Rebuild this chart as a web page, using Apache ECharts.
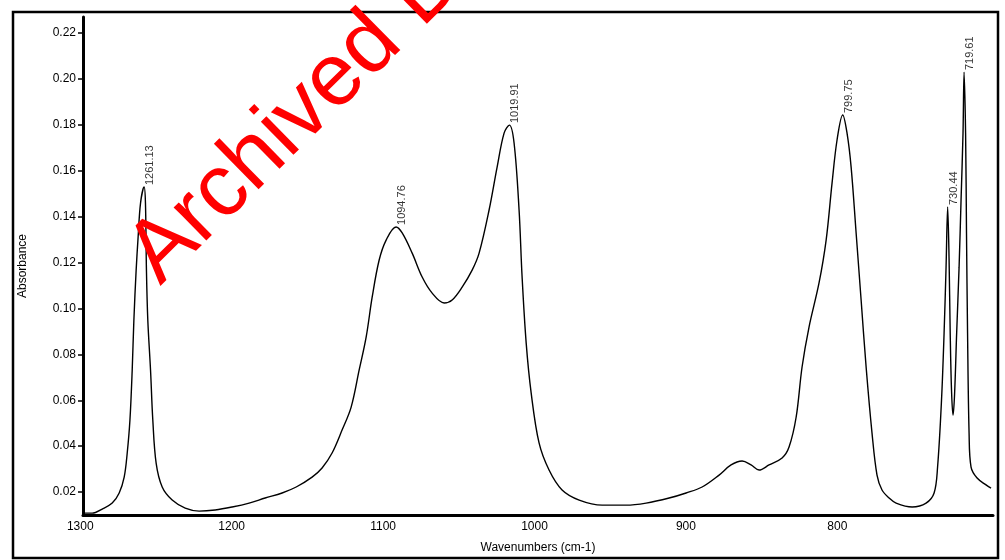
<!DOCTYPE html>
<html>
<head>
<meta charset="utf-8">
<script src="https://cdn.jsdelivr.net/npm/echarts@6/dist/echarts.min.js"></script>
<style>
html,body{margin:0;padding:0;background:#fff;}
#chart{width:1005px;height:560px;}
</style>
</head>
<body>
<div id="chart"></div>
<script>
// Spectrum trace (wavenumber cm-1, absorbance)
const wavenumbers = [
  1301.5, 1295.4, 1288.8, 1282.2, 1277.6, 1274.3, 1272.3, 1270.5, 1269.0, 1267.9,
  1266.4, 1265.1, 1263.5, 1261.13, 1260.25, 1259.6, 1258.7, 1256.9, 1255.4, 1253.2,
  1249.2, 1242.6, 1234.0, 1224.8, 1214.2, 1203.0, 1191.8, 1181.2, 1170.0, 1160.7,
  1150.2, 1143.6, 1137.0, 1130.4, 1124.4, 1119.1, 1114.5, 1110.5, 1105.9, 1101.3,
  1094.76, 1090.7, 1084.1, 1077.5, 1070.9, 1063.0, 1057.7, 1051.1, 1044.5, 1039.9,
  1033.3, 1028.0, 1023.4, 1019.91, 1016.8, 1013.5, 1011.5, 1008.8, 1005.5, 1000.3,
  993.7, 985.1, 973.8, 958.6, 942.8, 929.6, 914.4, 903.2, 892.6, 881.4,
  873.5, 866.2, 860.3, 855.0, 848.4, 839.8, 835.2, 830.5, 826.6, 822.0,
  815.4, 810.7, 806.8, 803.5, 799.75, 796.9, 794.2, 790.9, 787.6, 784.3,
  780.4, 777.1, 773.8, 769.1, 764.5, 753.9, 744.7, 739.4, 737.1, 734.5,
  732.8, 731.5, 730.44, 729.5, 728.8, 727.9, 726.9, 725.9, 724.5, 722.9,
  721.6, 720.3, 719.61, 718.6, 718.0, 717.3, 716.3, 715.0, 711.0, 705.1,
  701.8
];
const absorbance = [
  0.0108, 0.0108, 0.0126, 0.0152, 0.0196, 0.0265, 0.0370, 0.0514, 0.0732, 0.0949,
  0.1167, 0.1311, 0.1459, 0.1529, 0.1459, 0.1167, 0.0949, 0.0732, 0.0514, 0.0326,
  0.0222, 0.0165, 0.0130, 0.0117, 0.0122, 0.0135, 0.0152, 0.0174, 0.0196, 0.0222,
  0.0265, 0.0305, 0.0370, 0.0470, 0.0570, 0.0732, 0.0875, 0.1050, 0.1211, 0.1298,
  0.1355, 0.1329, 0.1241, 0.1137, 0.1067, 0.1024, 0.1037, 0.1093, 0.1167, 0.1241,
  0.1429, 0.1616, 0.1764, 0.1799, 0.1721, 0.1429, 0.1137, 0.0849, 0.0631, 0.0414,
  0.0296, 0.0209, 0.0165, 0.0143, 0.0143, 0.0152, 0.0174, 0.0196, 0.0222, 0.0274,
  0.0318, 0.0335, 0.0318, 0.0296, 0.0318, 0.0348, 0.0396, 0.0527, 0.0745, 0.0919,
  0.1111, 0.1298, 0.1546, 0.1734, 0.1843, 0.1764, 0.1616, 0.1329, 0.1037, 0.0745,
  0.0457, 0.0274, 0.0209, 0.0174, 0.0152, 0.0135, 0.0152, 0.0196, 0.0309, 0.0601,
  0.0893, 0.1180, 0.1442, 0.1211, 0.0906, 0.0644, 0.0535, 0.0623, 0.0893, 0.1180,
  0.1472, 0.1764, 0.2030, 0.1764, 0.1329, 0.0893, 0.0457, 0.0309, 0.0261, 0.0231,
  0.0217
];
// Labelled peaks
const peakWavenumbers = [1261.13, 1094.76, 1019.91, 799.75, 730.44, 719.61];
const peakAbsorbance  = [0.1529, 0.1355, 0.1799, 0.1843, 0.1442, 0.2030];
const peakLabels = ['1261.13', '1094.76', '1019.91', '799.75', '730.44', '719.61'];
// Axis ticks
const xTicks = [1300, 1200, 1100, 1000, 900, 800];
const yTicks = [0.02, 0.04, 0.06, 0.08, 0.10, 0.12, 0.14, 0.16, 0.18, 0.20, 0.22];

const FONT = '"Liberation Sans", Arial, sans-serif';
const chart = echarts.init(document.getElementById('chart'), null, {renderer: 'canvas'});

const option = {
  animation: false,
  backgroundColor: '#ffffff',
  grid: {left: 83, right: 12, top: 17, bottom: 45, containLabel: false},
  xAxis: {
    type: 'value',
    inverse: true,
    min: 700.5,
    max: 1301.5,
    name: 'Wavenumbers (cm-1)',
    nameLocation: 'middle',
    nameGap: 27,
    nameTextStyle: {fontFamily: FONT, fontSize: 12, color: '#000'},
    axisLine: {show: true, onZero: false, lineStyle: {color: '#000', width: 3}},
    axisTick: {show: false},
    splitLine: {show: false},
    axisLabel: {
      customValues: xTicks,
      formatter: function (v) { return String(Math.round(v)); },
      fontFamily: FONT, fontSize: 12, color: '#000',
      margin: 6,
      padding: [0, 10, 0, 0]
    }
  },
  yAxis: {
    type: 'value',
    min: 0.01,
    max: 0.227,
    name: 'Absorbance',
    nameLocation: 'middle',
    nameGap: 54,
    nameTextStyle: {fontFamily: FONT, fontSize: 12, color: '#000'},
    axisLine: {show: true, onZero: false, lineStyle: {color: '#000', width: 3}},
    axisTick: {show: true, customValues: yTicks, length: 5, lineStyle: {color: '#000', width: 1.5}},
    splitLine: {show: false},
    axisLabel: {
      customValues: yTicks,
      formatter: function (v) { return v.toFixed(2); },
      fontFamily: FONT, fontSize: 12, color: '#000',
      margin: 7
    }
  },
  series: [
    {
      type: 'line',
      data: wavenumbers.map(function (w, i) { return [w, absorbance[i]]; }),
      showSymbol: false,
      smooth: 0.35,
      lineStyle: {color: '#000', width: 1.4},
      z: 2
    },
    {
      type: 'scatter',
      data: peakWavenumbers.map(function (w, i) { return [w, peakAbsorbance[i]]; }),
      symbolSize: 0,
      itemStyle: {color: 'rgba(0,0,0,0)'},
      label: {
        show: true,
        formatter: function (p) { return peakLabels[p.dataIndex]; },
        rotate: 90,
        position: [6, -2],
        align: 'left',
        verticalAlign: 'middle',
        fontFamily: FONT, fontSize: 11, color: '#000'
      },
      z: 3
    }
  ],
  graphic: [
    {
      type: 'rect',
      shape: {x: 13, y: 12, width: 985, height: 546},
      style: {fill: 'none', stroke: '#000', lineWidth: 2.5},
      z: 10
    },
    {
      type: 'text',
      x: 174,
      y: 300,
      rotation: 44.5 * Math.PI / 180,
      style: {
        text: 'Archived Document',
        font: '88px "Liberation Sans", Arial, sans-serif',
        fill: '#ff0000',
        align: 'left',
        verticalAlign: 'bottom'
      },
      z: 20
    }
  ]
};
chart.setOption(option);
</script>
</body>
</html>
